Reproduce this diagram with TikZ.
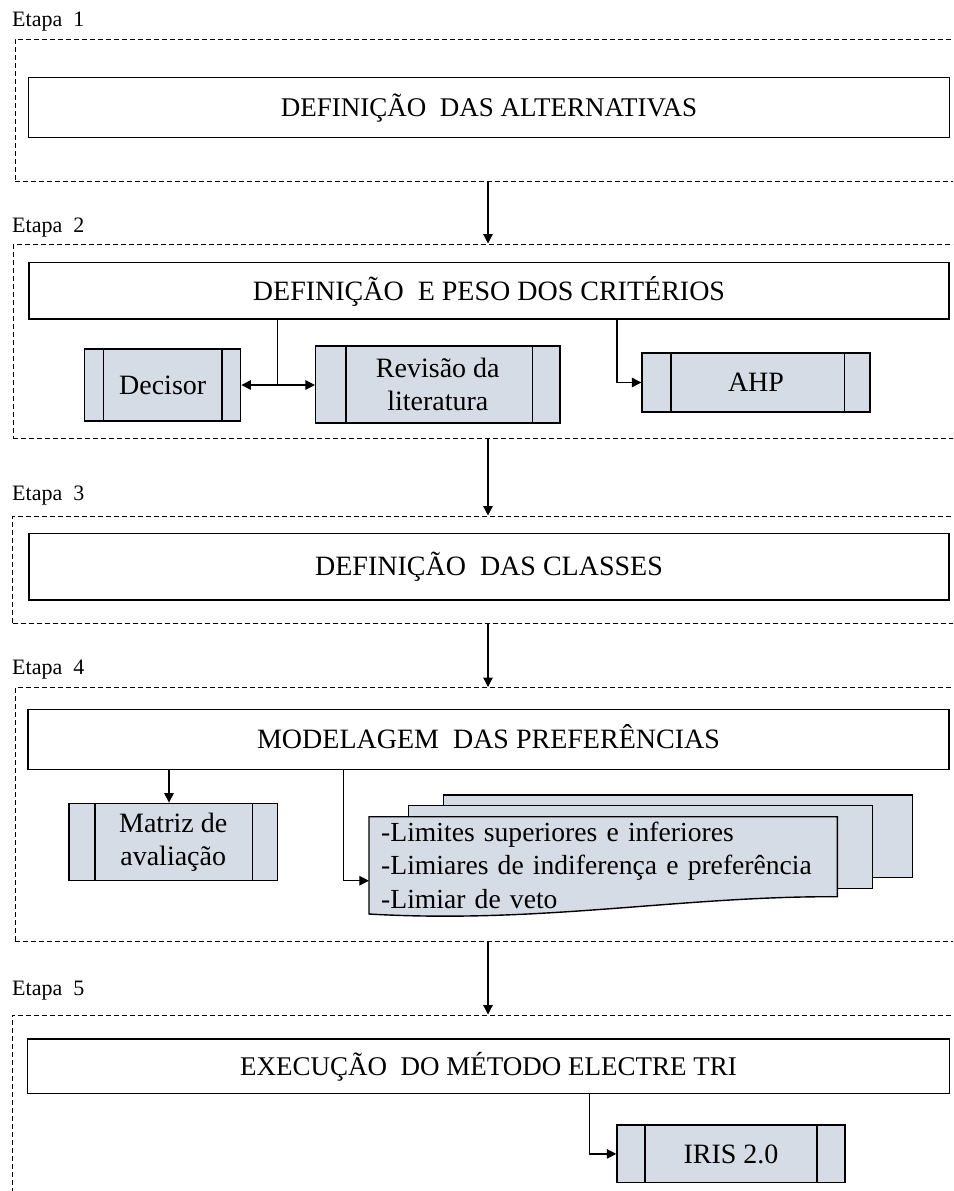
\documentclass[tikz,border=0pt]{standalone}
\usepackage{fontspec}
\setmainfont{Liberation Serif}
\usetikzlibrary{arrows.meta}
\definecolor{procfill}{RGB}{214,220,229}
\newcommand\procsides[3]{%
  \draw[line width=1.4pt] ([xshift=#2pt]#1.north west) -- ([xshift=#2pt]#1.south west);
  \draw[line width=1.4pt] ([xshift=-#3pt]#1.north east) -- ([xshift=-#3pt]#1.south east);}
\begin{document}
\begin{tikzpicture}[x=1pt,y=-1pt,
  frame/.style={draw, dash pattern=on 5pt off 3pt, line width=1pt, inner sep=0pt},
  titlebox/.style={draw, line width=1.4pt, inner sep=0pt, text depth=0pt},
  proc/.style={draw, line width=1.4pt, fill=procfill, inner sep=0pt, align=center, font=\fontsize{28}{33}\selectfont},
  doc/.style={draw, line width=1.4pt, fill=procfill},
  conn/.style={line width=1.2pt},
  arr/.style={conn, -{Triangle[length=9.5pt,width=9.5pt]}},
  darr/.style={conn, {Triangle[length=9.5pt,width=9.5pt]}-{Triangle[length=9.5pt,width=9.5pt]}},
  stagelbl/.style={anchor=base west, inner sep=0pt, font=\fontsize{22}{26}\selectfont}]
\useasboundingbox (0,0) rectangle (953,1191);
\clip (0,0) rectangle (953,1191);

% stage labels
\node[stagelbl] (e1) at (12,27) {Etapa\ \ 1};
\node[stagelbl] (e2) at (12,232) {Etapa\ \ 2};
\node[stagelbl] (e3) at (12,500) {Etapa\ \ 3};
\node[stagelbl] (e4) at (12,674) {Etapa\ \ 4};
\node[stagelbl] (e5) at (12,995) {Etapa\ \ 5};

% dashed frames
\node[frame, minimum width=965pt, minimum height=142pt] (f1) at (497.5,110) {};
\node[frame, minimum width=967pt, minimum height=194.5pt] (f2) at (496.5,341.25) {};
\node[frame, minimum width=967.5pt, minimum height=107pt] (f3) at (496.25,569.5) {};
\node[frame, minimum width=965pt, minimum height=253.5pt] (f4) at (497.5,814.25) {};
\node[frame, minimum width=968pt, minimum height=235pt] (f5) at (496,1132.5) {};

% title boxes
\node[titlebox, minimum width=921pt, minimum height=60pt, text height=18pt, font=\fontsize{27}{33}\selectfont] (b1) at (489,107.3) {DEFINIÇÃO\ \ DAS ALTERNATIVAS};
\node[titlebox, minimum width=920pt, minimum height=56.3pt, text height=18.5pt, font=\fontsize{28}{33}\selectfont] (b2) at (489,290.8) {DEFINIÇÃO\ \ E PESO DOS CRITÉRIOS};
\node[titlebox, minimum width=920pt, minimum height=66.7pt, text height=18.5pt, font=\fontsize{28}{33}\selectfont] (b3) at (489,566.7) {DEFINIÇÃO\ \ DAS CLASSES};
\node[titlebox, minimum width=921pt, minimum height=60pt, text height=18.5pt, font=\fontsize{28}{33}\selectfont] (b4) at (488.5,739.3) {MODELAGEM\ \ DAS PREFERÊNCIAS};
\node[titlebox, minimum width=922pt, minimum height=54.3pt, text height=18pt, font=\fontsize{27}{33}\selectfont] (b5) at (488.5,1066.2) {EXECUÇÃO\ \ DO MÉTODO ELECTRE TRI};

% process boxes
\node[proc, minimum width=156pt, minimum height=72pt] (dec) at (162.7,385) {Decisor};
\procsides{dec}{19.6}{19.6}
\node[proc, minimum width=244.3pt, minimum height=77pt] (rev) at (437.8,384.5) {Revisão da\\literatura};
\procsides{rev}{31}{28}
\node[proc, minimum width=228pt, minimum height=59pt] (ahp) at (756,382.5) {AHP};
\procsides{ahp}{29.6}{26.4}
\node[proc, minimum width=208.3pt, minimum height=77.4pt] (mat) at (173.2,842) {Matriz de\\avaliação};
\procsides{mat}{26.7}{25.6}
\node[proc, minimum width=228pt, minimum height=57.7pt] (iris) at (731,1153.9) {IRIS 2.0};
\procsides{iris}{28.6}{28.6}

% multiple documents
\draw[doc] (443.6,795) rectangle (912.7,877.3);
\draw[doc] (408.4,805.7) rectangle (872.5,888.3);
\draw[doc] (369,816.7) -- (837.3,816.7) -- (837.3,896.7) .. controls (680,896) and (540,924) .. (369,914) -- cycle;
\node[minimum width=468.3pt, minimum height=97.3pt, inner xsep=12pt, inner ysep=0pt, text width=444pt, align=left, font=\fontsize{27.6}{33.3}\selectfont] (docf) at (603.2,865.3) {-Limites superiores e inferiores\\-Limiares de indiferença e preferência\\-Limiar de veto};

% connectors between stages
\coordinate (xa) at (488,0);
\draw[arr] (f1.south -| xa) -- (f2.north -| xa);
\draw[arr] (f2.south -| xa) -- (f3.north -| xa);
\draw[arr] (f3.south -| xa) -- (f4.north -| xa);
\draw[arr] (f4.south -| xa) -- (f5.north -| xa);

% stage 2
\coordinate (j1) at (277.3,385);
\draw[conn] (b2.south -| j1) -- (j1);
\draw[darr] (dec.east |- j1) -- (rev.west |- j1);
\coordinate (xahp) at (617,0);
\draw[arr] (b2.south -| xahp) |- (ahp.west);

% stage 4
\coordinate (xmat) at (169,0);
\draw[arr] (b4.south -| xmat) -- (mat.north -| xmat);
\coordinate (xdoc) at (343.3,0);
\draw[arr] (b4.south -| xdoc) |- ([yshift=-15.4pt]docf.west);

% stage 5
\coordinate (xiris) at (589.7,0);
\draw[arr] (b5.south -| xiris) |- (iris.west);
\end{tikzpicture}
\end{document}
